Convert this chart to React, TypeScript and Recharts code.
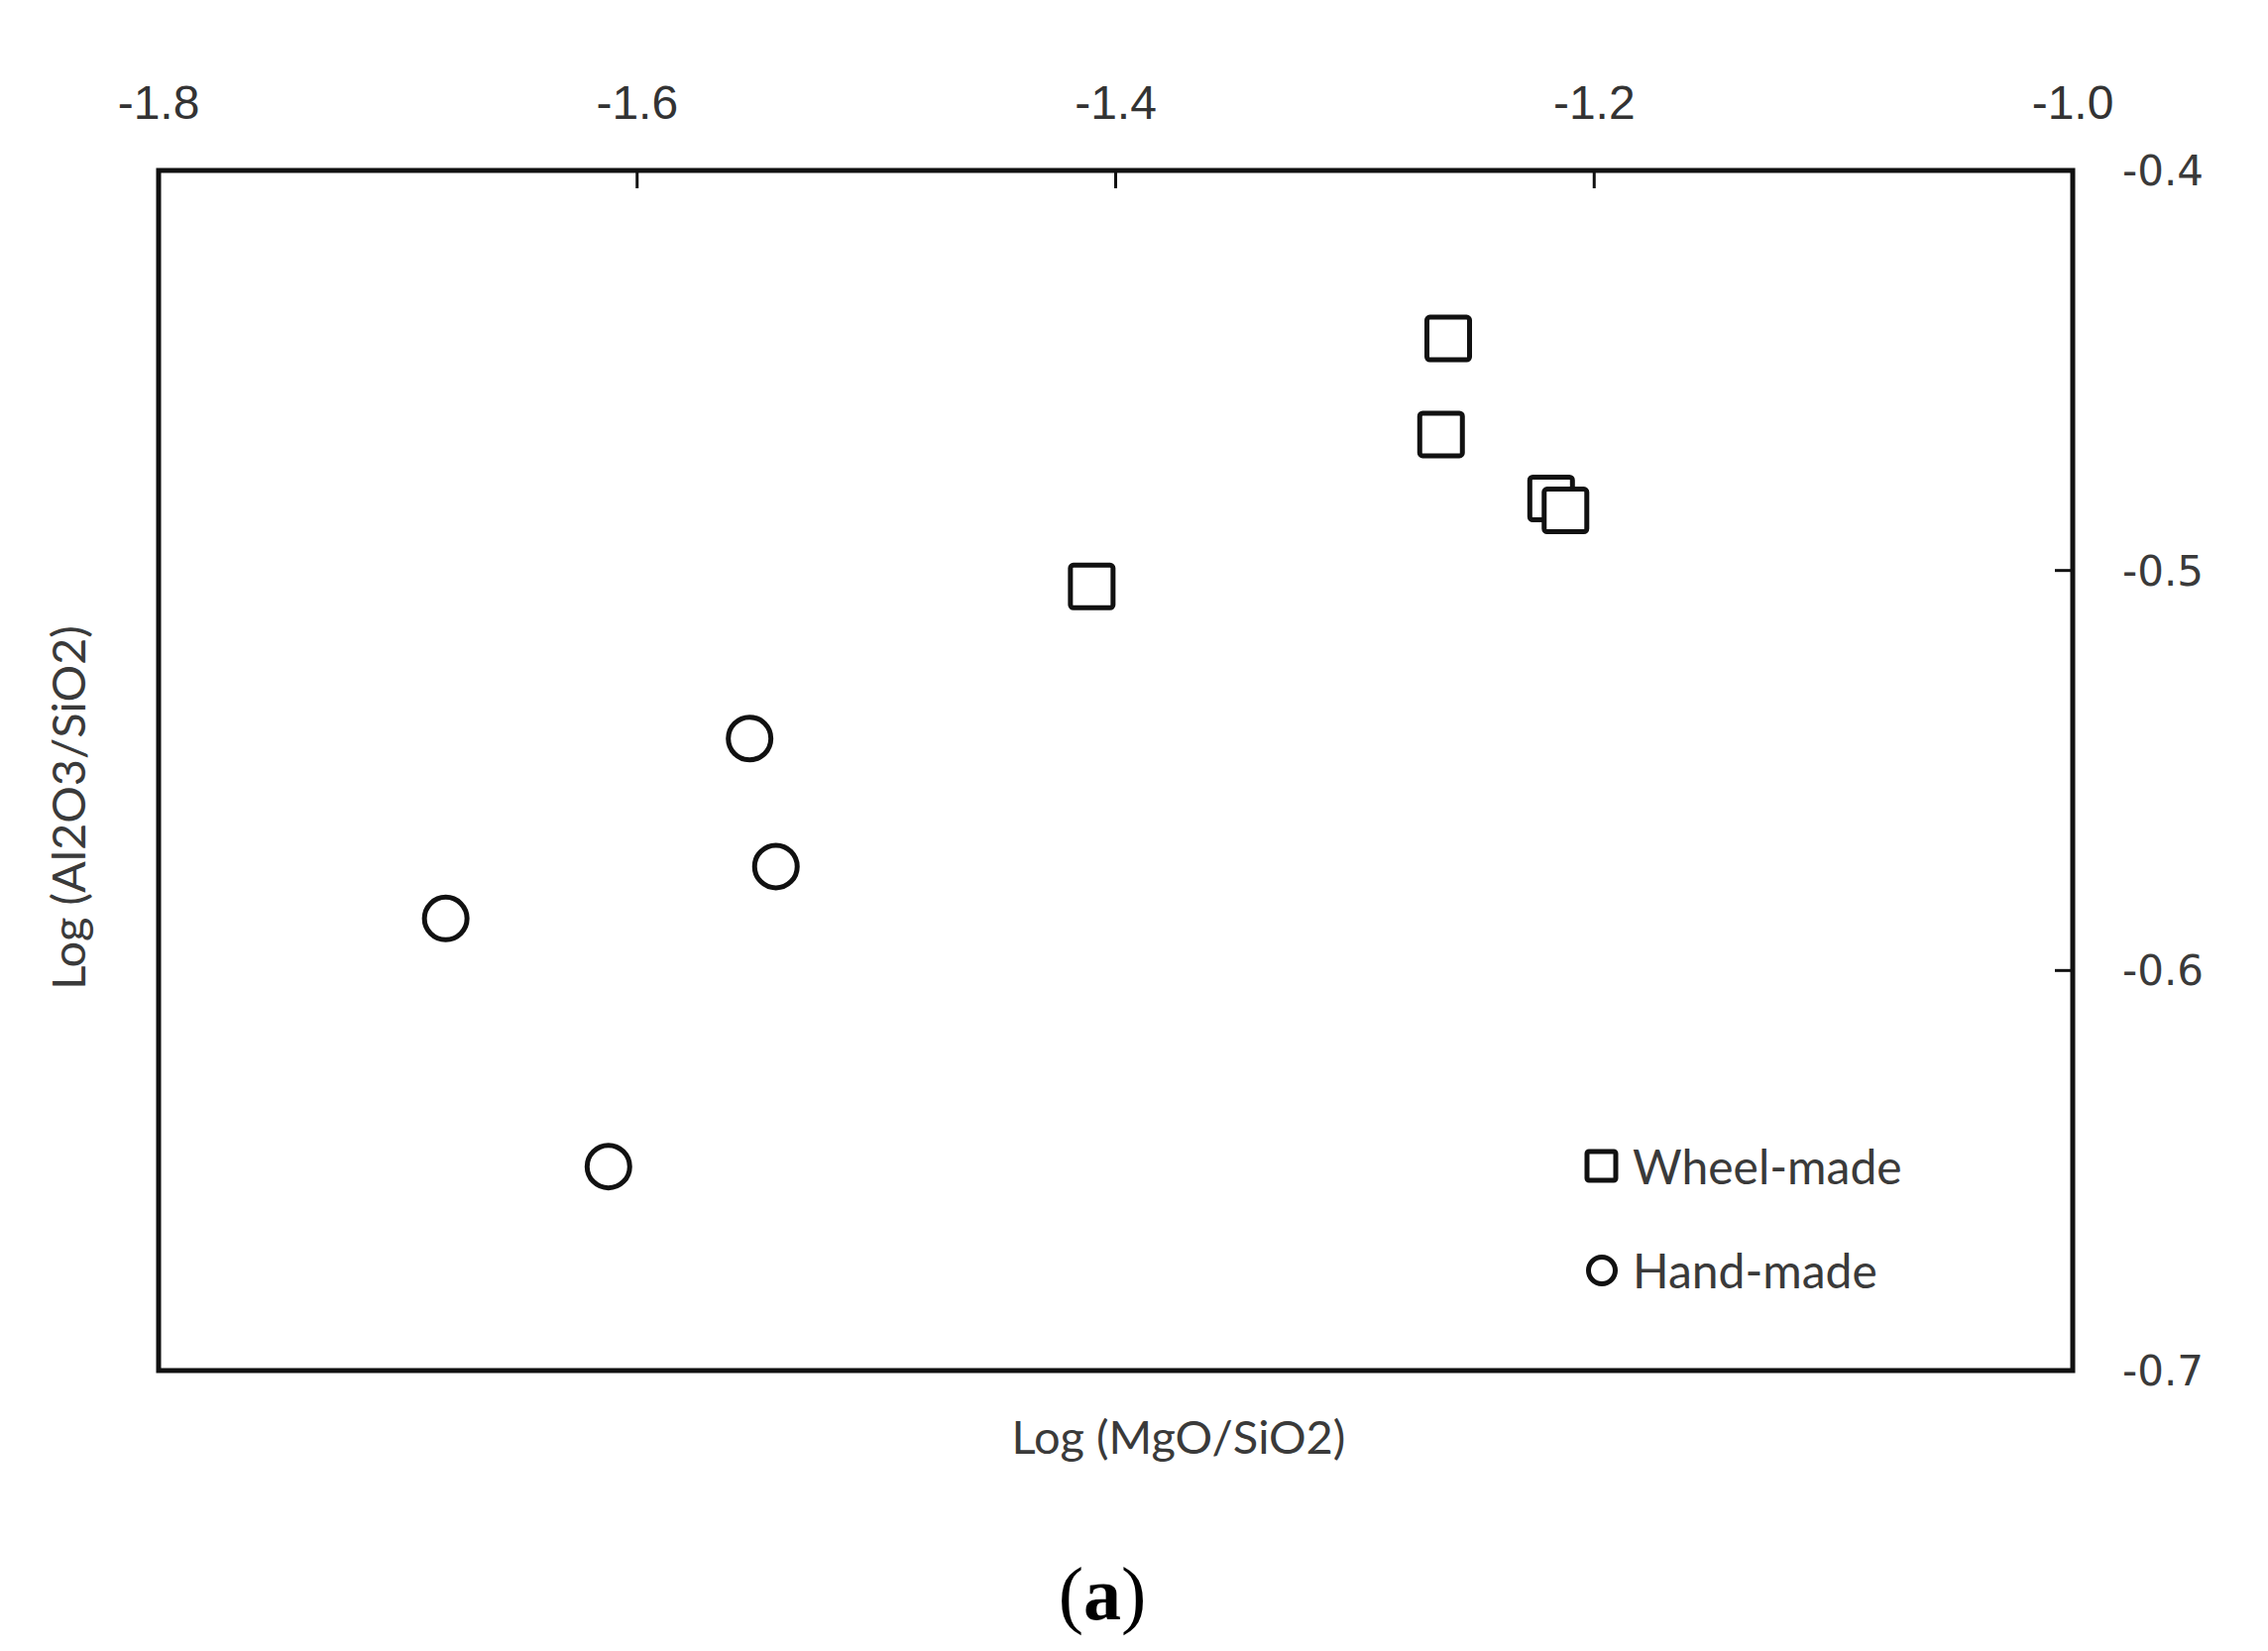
import {
  Legend,
  ReferenceArea,
  Scatter,
  ScatterChart,
  XAxis,
  YAxis,
} from 'recharts'

// values
const wheelMgO = [-1.261, -1.264, -1.218, -1.212, -1.41]
const wheelAl = [-0.442, -0.466, -0.482, -0.485, -0.504]
const handMgO = [-1.553, -1.542, -1.68, -1.612]
const handAl = [-0.542, -0.574, -0.587, -0.649]

const xTicks = [-1.8, -1.6, -1.4, -1.2, -1.0]
const yTicks = [-0.7, -0.6, -0.5, -0.4]

const wheelData = wheelMgO.map((x, i) => ({ x, y: wheelAl[i] }))
const handData = handMgO.map((x, i) => ({ x, y: handAl[i] }))

const INK = '#111'
const TEXT = '#3a3a3a'

function SquareMark(props: any) {
  const { cx, cy } = props
  return (
    <rect
      x={cx - 21.5}
      y={cy - 21.5}
      width={43}
      height={43}
      rx={3}
      fill="#fff"
      stroke={INK}
      strokeWidth={5}
    />
  )
}

function CircleMark(props: any) {
  const { cx, cy } = props
  return <circle cx={cx} cy={cy} r={21.5} fill="#fff" stroke={INK} strokeWidth={5} />
}

function LegendBox() {
  const rows = [
    { name: 'Wheel-made', shape: 'square' },
    { name: 'Hand-made', shape: 'circle' },
  ]
  return (
    <div>
      {rows.map((r) => (
        <div
          key={r.name}
          style={{ display: 'flex', alignItems: 'center', height: 105 }}
        >
          <svg width={36} height={36} style={{ marginRight: 13 }}>
            {r.shape === 'square' ? (
              <rect x={3} y={3} width={29} height={29} rx={2} fill="#fff" stroke={INK} strokeWidth={5} />
            ) : (
              <circle cx={18} cy={18} r={13.5} fill="#fff" stroke={INK} strokeWidth={5} />
            )}
          </svg>
          <span style={{ fontFamily: 'Lato, sans-serif', fontSize: 48, color: TEXT }}>
            {r.name}
          </span>
        </div>
      ))}
    </div>
  )
}

export default function App() {
  return (
    <div style={{ position: 'absolute', left: 0, top: 0, width: 2288, height: 1666, background: '#fff' }}>
      <ScatterChart
        width={2288}
        height={1666}
        margin={{ top: 112, right: 47, bottom: 283, left: 160 }}
      >
        <XAxis
          type="number"
          dataKey="x"
          orientation="top"
          height={60}
          domain={[-1.8, -1.0]}
          ticks={xTicks}
          allowDataOverflow
          axisLine={false}
          tickLine={{ stroke: INK, strokeWidth: 3 }}
          tickSize={-18}
          tickMargin={70}
          tickFormatter={(v: number) => v.toFixed(1)}
          tick={{ fill: '#333', fontSize: 48, fontFamily: '"Liberation Sans Narrow", "Liberation Sans", sans-serif' }}
        />
        <YAxis
          type="number"
          dataKey="y"
          orientation="right"
          width={150}
          domain={[-0.7, -0.4]}
          ticks={yTicks}
          allowDataOverflow
          axisLine={false}
          tickLine={{ stroke: INK, strokeWidth: 3 }}
          tickSize={-18}
          tickMargin={68}
          tickFormatter={(v: number) => v.toFixed(1)}
          tick={{ fill: TEXT, fontSize: 42, fontFamily: '"DejaVu Sans", sans-serif' }}
        />
        <ReferenceArea
          x1={-1.8}
          x2={-1.0}
          y1={-0.7}
          y2={-0.4}
          fill="none"
          fillOpacity={0}
          stroke={INK}
          strokeWidth={5}
        />
        <Scatter
          name="Wheel-made"
          data={wheelData}
          shape={SquareMark}
          legendType="square"
          isAnimationActive={false}
        />
        <Scatter
          name="Hand-made"
          data={handData}
          shape={CircleMark}
          legendType="circle"
          isAnimationActive={false}
        />
        <Legend
          layout="horizontal"
          align="center"
          verticalAlign="middle"
          content={() => <LegendBox />}
          wrapperStyle={{ position: 'absolute', left: 1598, top: 1124, width: 400 }}
        />
      </ScatterChart>
      <div
        style={{
          position: 'absolute',
          left: 1189,
          top: 1426,
          transform: 'translateX(-50%)',
          whiteSpace: 'nowrap',
          fontFamily: 'Lato, sans-serif',
          fontSize: 47,
          lineHeight: 1,
          color: TEXT,
        }}
      >
        Log (MgO/SiO2)
      </div>
      <div
        style={{
          position: 'absolute',
          left: 68,
          top: 815,
          transform: 'translate(-50%, -50%) rotate(-90deg)',
          whiteSpace: 'nowrap',
          fontFamily: 'Lato, sans-serif',
          fontSize: 47,
          lineHeight: 1,
          color: TEXT,
        }}
      >
        Log (Al2O3/SiO2)
      </div>
      <div
        style={{
          position: 'absolute',
          left: 1112,
          top: 1570,
          transform: 'translateX(-50%)',
          whiteSpace: 'nowrap',
          fontFamily: '"Liberation Serif", serif',
          fontSize: 76,
          lineHeight: 1,
          color: '#000',
        }}
      >
        (<b>a</b>)
      </div>
    </div>
  )
}
